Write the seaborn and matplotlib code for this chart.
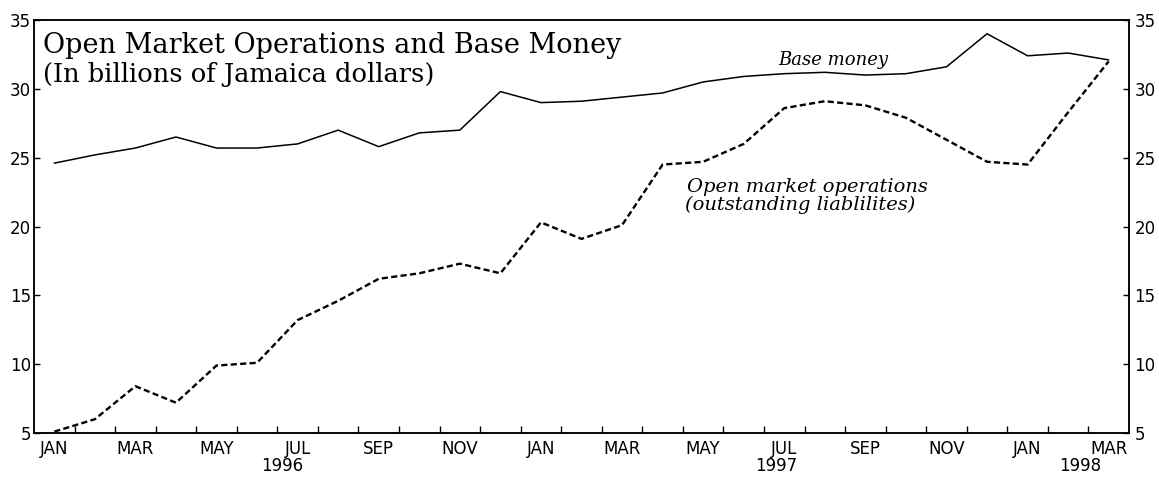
import numpy as np
import pandas as pd
import matplotlib
matplotlib.use('Agg')
import matplotlib.pyplot as plt
import seaborn as sns

# --- data (billions of Jamaica dollars), monthly Jan 1996 - Mar 1998 ---
months = ['JAN', 'FEB', 'MAR', 'APR', 'MAY', 'JUN', 'JUL', 'AUG', 'SEP', 'OCT', 'NOV', 'DEC',
          'JAN', 'FEB', 'MAR', 'APR', 'MAY', 'JUN', 'JUL', 'AUG', 'SEP', 'OCT', 'NOV', 'DEC',
          'JAN', 'FEB', 'MAR']
base_money = [24.6, 25.2, 25.7, 26.5, 25.7, 25.7, 26.0, 27.0, 25.8, 26.8, 27.0, 29.8,
              29.0, 29.1, 29.4, 29.7, 30.5, 30.9, 31.1, 31.2, 31.0, 31.1, 31.6, 34.0,
              32.4, 32.6, 32.1]
omo = [5.1, 6.0, 8.4, 7.2, 9.9, 10.1, 13.2, 14.6, 16.2, 16.6, 17.3, 16.6,
       20.3, 19.1, 20.1, 24.5, 24.7, 26.0, 28.6, 29.1, 28.8, 27.9, 26.3, 24.7,
       24.5, 28.3, 32.0]
years = ['1996', '1997', '1998']
year_pos = [5.63, 17.8, 25.3]
yticks = [5, 10, 15, 20, 25, 30, 35]

df = pd.DataFrame({'t': np.arange(len(months)), 'base': base_money, 'omo': omo})

sns.set_theme(style='ticks')
plt.rcParams['font.family'] = ['DejaVu Sans']

W, H = 1159, 480
fig = plt.figure(figsize=(W / 100, H / 100), dpi=100)
ax = fig.add_axes([34 / W, 1 - 433 / H, (1129 - 34) / W, (433 - 20) / H])

sns.lineplot(data=df, x='t', y='base', color='black', linewidth=1.1, ax=ax)
sns.lineplot(data=df, x='t', y='omo', color='black', linewidth=1.7,
             linestyle=(0, (2.6, 1.4)), ax=ax)

ax.set_xlim(-0.5, 26.5)
ax.set_ylim(5, 35)
ax.set_xlabel('')
ax.set_ylabel('')

# month labels at every other month, small ticks at month boundaries
ax.set_xticks(df['t'][::2])
ax.set_xticklabels(months[::2])
ax.set_xticks(np.arange(0.5, 26, 1), minor=True)
ax.tick_params(axis='x', which='major', length=0, pad=5, labelsize=12, colors='black')
ax.tick_params(axis='x', which='minor', direction='in', length=5, width=1, color='black')
ax.set_yticks(yticks)
ax.tick_params(axis='y', direction='in', length=4, width=1, pad=2, labelsize=12, colors='black')

ax2 = ax.twinx()
ax2.set_ylim(5, 35)
ax2.set_yticks(yticks)
ax2.tick_params(axis='y', direction='in', length=4, width=1, pad=4, labelsize=12, colors='black')

for a in (ax, ax2):
    for s in a.spines.values():
        s.set_color('black')
        s.set_linewidth(1.1)

# year labels under the month labels
for p, yr in zip(year_pos, years):
    ax.text(p, -0.080, yr, transform=ax.get_xaxis_transform(), ha='center', va='center',
            fontsize=12, color='black')

# titles and series labels
fig.text(43 / W, 1 - 53 / H, 'Open Market Operations and Base Money',
         family='DejaVu Serif', fontsize=19.5, va='baseline', color='black')
fig.text(43 / W, 1 - 82 / H, '(In billions of Jamaica dollars)',
         family='DejaVu Serif', fontsize=18.5, va='baseline', color='black')
fig.text(778 / W, 1 - 65 / H, 'Base money', family='DejaVu Serif', style='italic',
         fontsize=13, va='baseline', color='black')
fig.text(687 / W, 1 - 192 / H, 'Open market operations', family='DejaVu Serif',
         style='italic', fontsize=14, va='baseline', color='black')
fig.text(685 / W, 1 - 210 / H, '(outstanding liablilites)', family='DejaVu Serif',
         style='italic', fontsize=14, va='baseline', color='black')

fig.savefig('out.png', dpi=100, facecolor='white')
